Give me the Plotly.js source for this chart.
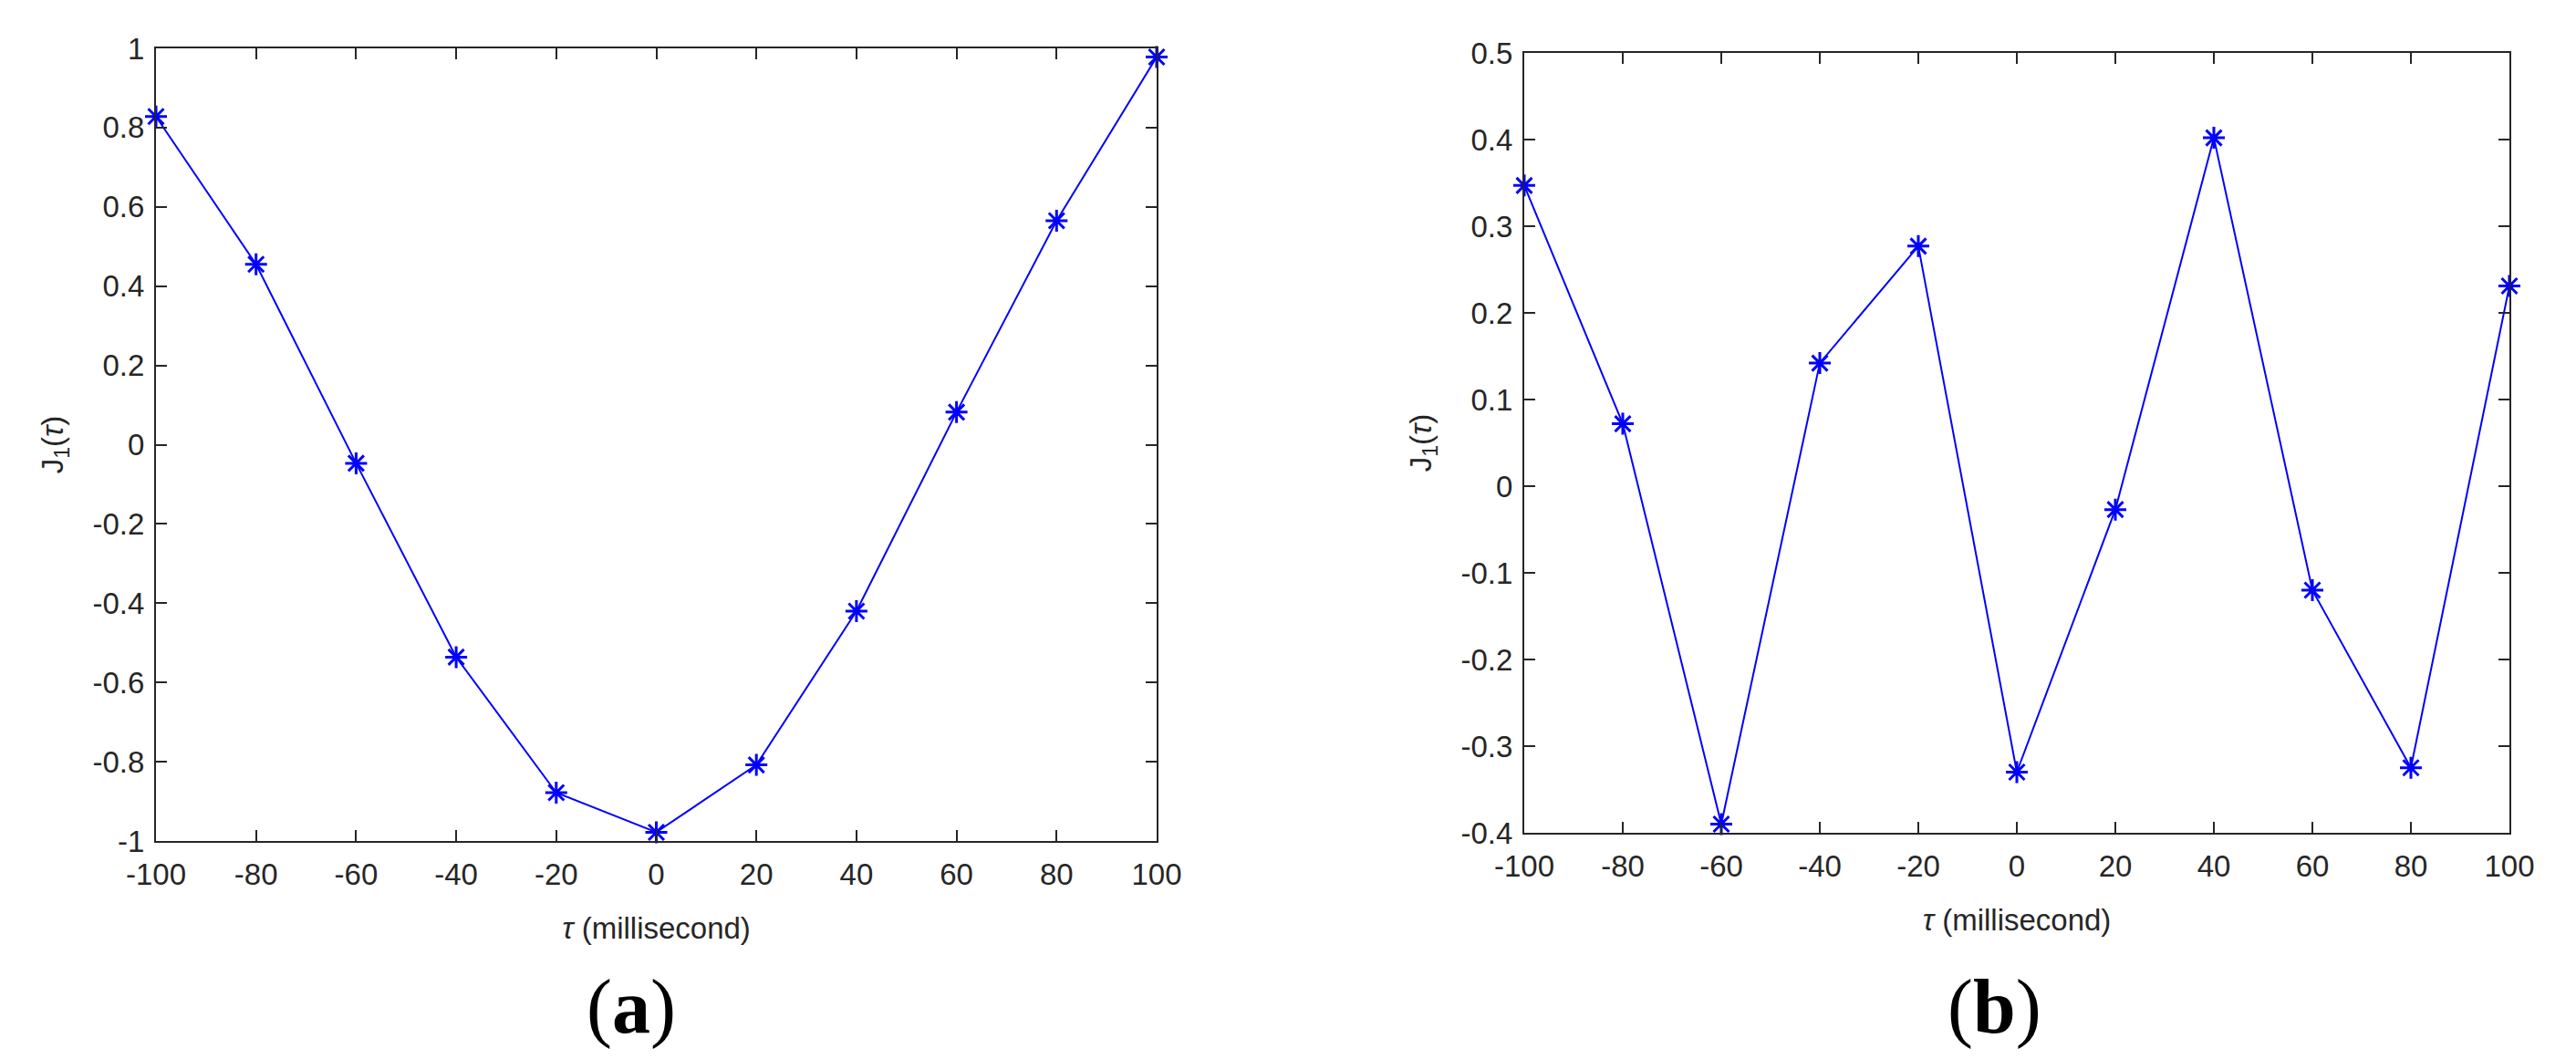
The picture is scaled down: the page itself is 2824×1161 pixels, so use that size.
<!DOCTYPE html>
<html>
<head>
<meta charset="utf-8">
<script src="https://cdn.plot.ly/plotly-3.0.1.min.js"></script>
<style>html,body{margin:0;padding:0;background:#fff;}#chart{width:2824px;height:1161px;}</style>
</head>
<body>
<div id="chart"></div>
<script>
// ---- data ----
const tau = [-100, -80, -60, -40, -20, 0, 20, 40, 60, 80, 100];
const J1a = [0.828, 0.455, -0.047, -0.536, -0.878, -0.978, -0.808, -0.42, 0.082, 0.565, 0.978];
const J1b = [0.347, 0.072, -0.39, 0.142, 0.277, -0.33, -0.027, 0.402, -0.12, -0.325, 0.231];

const xTickVals = [-100, -80, -60, -40, -20, 0, 20, 40, 60, 80, 100];
const xTickText = ["-100", "-80", "-60", "-40", "-20", "0", "20", "40", "60", "80", "100"];
const yaTickVals = [-1, -0.8, -0.6, -0.4, -0.2, 0, 0.2, 0.4, 0.6, 0.8, 1];
const yaTickText = ["-1", "-0.8", "-0.6", "-0.4", "-0.2", "0", "0.2", "0.4", "0.6", "0.8", "1"];
const ybTickVals = [-0.4, -0.3, -0.2, -0.1, 0, 0.1, 0.2, 0.3, 0.4, 0.5];
const ybTickText = ["-0.4", "-0.3", "-0.2", "-0.1", "0", "0.1", "0.2", "0.3", "0.4", "0.5"];
const panelLabels = ["(<b>a</b>)", "(<b>b</b>)"];
const xTitle = "<i>τ</i> (millisecond)";
const yTitle = "J<sub>1</sub>(<i>τ</i>)";

// ---- style ----
const blue = "#0000FF";
const axisColor = "#262626";
const tickFont = {family: "Liberation Sans, Arial, sans-serif", size: 33, color: axisColor};

function trace(y, xa, ya) {
  return {
    x: tau, y: y, xaxis: xa, yaxis: ya,
    type: "scatter", mode: "lines+markers",
    line: {color: blue, width: 2},
    marker: {symbol: "asterisk-open", size: 20, color: blue, line: {color: blue, width: 3}},
    cliponaxis: false, hoverinfo: "skip", showlegend: false
  };
}

function xAxis(domain, anchor) {
  return {
    domain: domain, anchor: anchor, range: [-100, 100],
    tickmode: "array", tickvals: xTickVals, ticktext: xTickText,
    ticks: "inside", ticklen: 12, tickwidth: 2, tickcolor: axisColor,
    showline: true, linecolor: axisColor, linewidth: 2, mirror: "ticks",
    showgrid: false, zeroline: false, tickfont: tickFont,
    ticklabelstandoff: 6,
    title: {text: xTitle, font: tickFont, standoff: 30}
  };
}
function yAxis(domain, anchor, range, vals, text) {
  return {
    domain: domain, anchor: anchor, range: range,
    tickmode: "array", tickvals: vals, ticktext: text,
    ticks: "inside", ticklen: 12, tickwidth: 2, tickcolor: axisColor,
    showline: true, linecolor: axisColor, linewidth: 2, mirror: "ticks",
    showgrid: false, zeroline: false, tickfont: tickFont,
    ticklabelstandoff: 4,
    title: {text: yTitle, font: tickFont, standoff: 22}
  };
}

const W = 2824, H = 1161;
const layout = {
  width: W, height: H,
  margin: {l: 0, r: 0, t: 0, b: 0, pad: 0},
  paper_bgcolor: "#ffffff", plot_bgcolor: "#ffffff",
  showlegend: false,
  xaxis: xAxis([171 / W, 1268 / W], "y"),
  yaxis: yAxis([1 - 922 / H, 1 - 53 / H], "x", [-1, 1], yaTickVals, yaTickText),
  xaxis2: xAxis([1671 / W, 2751 / W], "y2"),
  yaxis2: yAxis([1 - 913 / H, 1 - 58 / H], "x2", [-0.4, 0.5], ybTickVals, ybTickText),
  annotations: [
    {text: panelLabels[0], xref: "paper", yref: "paper", x: 692 / W, y: 1 - 1104 / H,
     xanchor: "center", yanchor: "middle", showarrow: false,
     font: {family: "Liberation Serif, Times New Roman, serif", size: 84, color: "#000"}},
    {text: panelLabels[1], xref: "paper", yref: "paper", x: 2186 / W, y: 1 - 1104 / H,
     xanchor: "center", yanchor: "middle", showarrow: false,
     font: {family: "Liberation Serif, Times New Roman, serif", size: 84, color: "#000"}}
  ]
};

Plotly.newPlot("chart", [trace(J1a, "x", "y"), trace(J1b, "x2", "y2")], layout, {staticPlot: true, displayModeBar: false});
</script>
</body>
</html>
